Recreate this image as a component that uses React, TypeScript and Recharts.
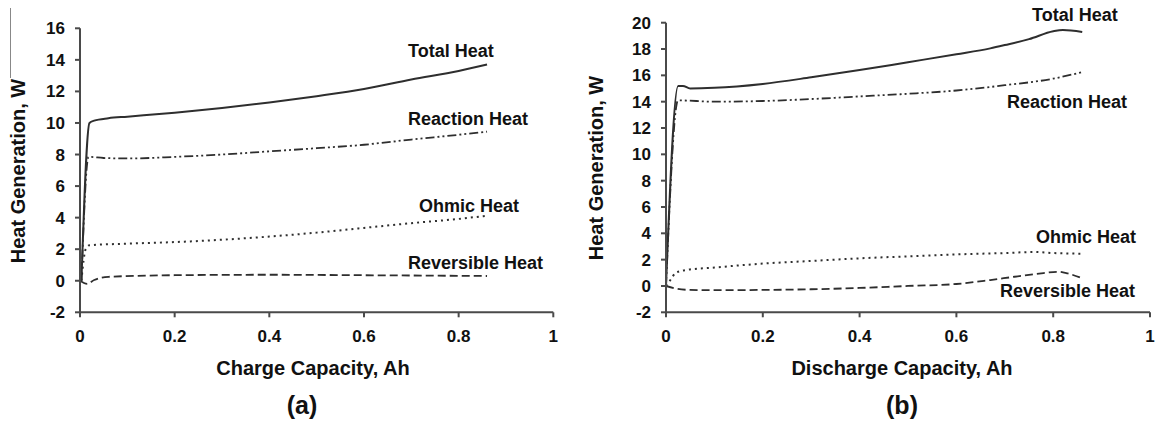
import React from "react";
import { LineChart, Line, XAxis, YAxis } from "recharts";

const xTicks = [0, 0.2, 0.4, 0.6, 0.8, 1];
const chargeYTicks = [-2, 0, 2, 4, 6, 8, 10, 12, 14, 16];
const dischargeYTicks = [-2, 0, 2, 4, 6, 8, 10, 12, 14, 16, 18, 20];

// (a) charge
const chargeTotal = [
  { x: 0.003, y: 0 }, { x: 0.02, y: 10.0 }, { x: 0.03, y: 10.15 }, { x: 0.06, y: 10.3 },
  { x: 0.1, y: 10.4 }, { x: 0.2, y: 10.65 }, { x: 0.3, y: 10.95 }, { x: 0.4, y: 11.3 },
  { x: 0.5, y: 11.7 }, { x: 0.6, y: 12.15 }, { x: 0.7, y: 12.75 }, { x: 0.8, y: 13.3 },
  { x: 0.86, y: 13.7 },
];
const chargeReaction = [
  { x: 0.003, y: 0 }, { x: 0.018, y: 7.85 }, { x: 0.05, y: 7.78 }, { x: 0.1, y: 7.75 },
  { x: 0.2, y: 7.85 }, { x: 0.3, y: 8.0 }, { x: 0.4, y: 8.2 }, { x: 0.5, y: 8.4 },
  { x: 0.6, y: 8.62 }, { x: 0.7, y: 8.95 }, { x: 0.8, y: 9.25 }, { x: 0.86, y: 9.45 },
];
const chargeOhmic = [
  { x: 0.003, y: 0 }, { x: 0.012, y: 2.0 }, { x: 0.02, y: 2.25 }, { x: 0.1, y: 2.35 },
  { x: 0.2, y: 2.45 }, { x: 0.3, y: 2.6 }, { x: 0.4, y: 2.8 }, { x: 0.5, y: 3.05 },
  { x: 0.6, y: 3.35 }, { x: 0.7, y: 3.65 }, { x: 0.8, y: 3.92 }, { x: 0.86, y: 4.12 },
];
const chargeReversible = [
  { x: 0, y: 0 }, { x: 0.015, y: -0.2 }, { x: 0.03, y: 0.05 }, { x: 0.06, y: 0.25 },
  { x: 0.2, y: 0.35 }, { x: 0.4, y: 0.38 }, { x: 0.6, y: 0.35 }, { x: 0.86, y: 0.3 },
];

// (b) discharge
const dischargeTotal = [
  { x: 0, y: 0 }, { x: 0.025, y: 15.2 }, { x: 0.035, y: 15.2 }, { x: 0.05, y: 15.0 },
  { x: 0.1, y: 15.05 }, { x: 0.2, y: 15.35 }, { x: 0.3, y: 15.85 }, { x: 0.4, y: 16.4 },
  { x: 0.5, y: 17.0 }, { x: 0.6, y: 17.6 }, { x: 0.67, y: 18.05 }, { x: 0.7, y: 18.3 },
  { x: 0.75, y: 18.75 }, { x: 0.8, y: 19.35 }, { x: 0.82, y: 19.45 }, { x: 0.86, y: 19.3 },
];
const dischargeReaction = [
  { x: 0, y: 0 }, { x: 0.025, y: 14.1 }, { x: 0.1, y: 14.0 }, { x: 0.2, y: 14.05 },
  { x: 0.3, y: 14.2 }, { x: 0.4, y: 14.4 }, { x: 0.5, y: 14.6 }, { x: 0.6, y: 14.85 },
  { x: 0.7, y: 15.25 }, { x: 0.8, y: 15.75 }, { x: 0.86, y: 16.25 },
];
const dischargeOhmic = [
  { x: 0, y: 0 }, { x: 0.01, y: 0.5 }, { x: 0.02, y: 1.0 }, { x: 0.04, y: 1.2 },
  { x: 0.1, y: 1.4 }, { x: 0.2, y: 1.7 }, { x: 0.3, y: 1.9 }, { x: 0.4, y: 2.1 },
  { x: 0.5, y: 2.25 }, { x: 0.6, y: 2.4 }, { x: 0.7, y: 2.5 }, { x: 0.76, y: 2.58 },
  { x: 0.8, y: 2.5 }, { x: 0.86, y: 2.45 },
];
const dischargeReversible = [
  { x: 0, y: 0 }, { x: 0.02, y: -0.2 }, { x: 0.05, y: -0.3 }, { x: 0.1, y: -0.32 },
  { x: 0.2, y: -0.3 }, { x: 0.3, y: -0.25 }, { x: 0.4, y: -0.15 }, { x: 0.5, y: 0.0 },
  { x: 0.6, y: 0.15 }, { x: 0.67, y: 0.45 }, { x: 0.72, y: 0.7 }, { x: 0.78, y: 0.98 },
  { x: 0.81, y: 1.08 }, { x: 0.83, y: 0.95 }, { x: 0.86, y: 0.58 },
];

const FONT = "'Liberation Sans', Arial, sans-serif";
const INK = "#111";
const LINE = "#2e2e2e";
const AXIS = "#4a4a4a";

const tickStyle = { fill: INK, fontSize: 17, fontWeight: 700, fontFamily: FONT };

const text = (left: number, top: number, size: number, s: string, extra: any = {}) => (
  <div
    style={{
      position: "absolute",
      left,
      top,
      fontSize: size,
      fontWeight: 700,
      lineHeight: 1,
      whiteSpace: "nowrap",
      color: INK,
      fontFamily: FONT,
      transform: "translateY(-50%)",
      ...extra,
    }}
  >
    {s}
  </div>
);

function Panel({
  left,
  width,
  top,
  plotLeft,
  plotRight,
  yTicks,
  series,
}: {
  left: number;
  width: number;
  top: number;
  plotLeft: number;
  plotRight: number;
  yTicks: number[];
  series: { total: any[]; reaction: any[]; ohmic: any[]; reversible: any[] };
}) {
  const plotBottom = 312.3;
  const xAxisH = 30;
  const yAxisW = 60;
  return (
    <div style={{ position: "absolute", left, top: 0 }}>
      <LineChart
        width={width}
        height={425}
        margin={{
          top,
          left: plotLeft - yAxisW,
          right: width - plotRight,
          bottom: 425 - plotBottom - xAxisH,
        }}
      >
        <XAxis
          type="number"
          dataKey="x"
          domain={[0, 1]}
          ticks={xTicks}
          allowDataOverflow
          height={xAxisH}
          tickSize={5}
          tickMargin={12.7}
          tick={tickStyle}
          axisLine={{ stroke: AXIS, strokeWidth: 2 }}
          tickLine={{ stroke: AXIS, strokeWidth: 2 }}
        />
        <YAxis
          type="number"
          dataKey="y"
          domain={[yTicks[0], yTicks[yTicks.length - 1]]}
          ticks={yTicks}
          allowDataOverflow
          interval={0}
          width={yAxisW}
          tickSize={5}
          tickMargin={10}
          tick={tickStyle}
          axisLine={{ stroke: AXIS, strokeWidth: 2 }}
          tickLine={{ stroke: AXIS, strokeWidth: 2 }}
        />
        <Line data={series.reversible} dataKey="y" type="monotone" stroke={LINE} strokeWidth={1.8} strokeDasharray="8 4" dot={false} isAnimationActive={false} />
        <Line data={series.ohmic} dataKey="y" type="monotone" stroke={LINE} strokeWidth={2} strokeDasharray="2 4" dot={false} isAnimationActive={false} />
        <Line data={series.reaction} dataKey="y" type="monotone" stroke={LINE} strokeWidth={1.8} strokeDasharray="9 3 2 3 2 3" dot={false} isAnimationActive={false} />
        <Line data={series.total} dataKey="y" type="monotone" stroke={LINE} strokeWidth={2} dot={false} isAnimationActive={false} />
      </LineChart>
    </div>
  );
}

export default function App() {
  return (
    <div style={{ position: "absolute", left: 0, top: 0, width: 1158, height: 425, background: "#fff", overflow: "hidden" }}>
      <div style={{ position: "absolute", left: 10, top: 8, width: 1, height: 70, background: "#888" }} />

      <Panel
        left={0}
        width={580}
        top={28.3}
        plotLeft={80}
        plotRight={553.3}
        yTicks={chargeYTicks}
        series={{ total: chargeTotal, reaction: chargeReaction, ohmic: chargeOhmic, reversible: chargeReversible }}
      />
      <Panel
        left={580}
        width={578}
        top={22.7}
        plotLeft={86}
        plotRight={570}
        yTicks={dischargeYTicks}
        series={{ total: dischargeTotal, reaction: dischargeReaction, ohmic: dischargeOhmic, reversible: dischargeReversible }}
      />

      {/* panel (a) text */}
      {text(408, 50.7, 18, "Total Heat")}
      {text(408, 119.3, 18, "Reaction Heat")}
      {text(419, 206, 18, "Ohmic Heat")}
      {text(408, 263.3, 18, "Reversible Heat")}
      {text(313, 368, 20, "Charge Capacity, Ah", { transform: "translate(-50%, -50%)" })}
      {text(302, 405, 25, "(a)", { transform: "translate(-50%, -50%)" })}
      {text(18, 171, 20, "Heat Generation, W", { transform: "translate(-50%, -50%) rotate(-90deg)" })}

      {/* panel (b) text */}
      {text(1032, 15.3, 18, "Total Heat")}
      {text(1007, 102.3, 18, "Reaction Heat")}
      {text(1036, 237.3, 18, "Ohmic Heat")}
      {text(1000, 291, 18, "Reversible Heat")}
      {text(902, 368, 20, "Discharge Capacity, Ah", { transform: "translate(-50%, -50%)" })}
      {text(902, 405, 25, "(b)", { transform: "translate(-50%, -50%)" })}
      {text(596, 167.5, 20, "Heat Generation, W", { transform: "translate(-50%, -50%) rotate(-90deg)" })}
    </div>
  );
}
